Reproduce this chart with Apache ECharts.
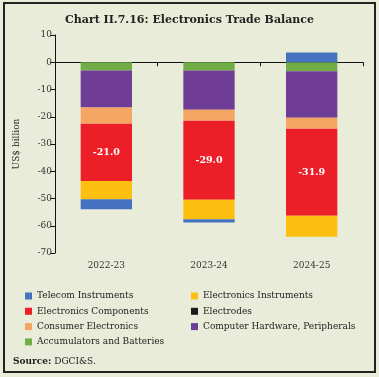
<!DOCTYPE html>
<html>
<head>
<meta charset="utf-8">
<style>
  html, body { margin: 0; padding: 0; background: #fff; }
  #chart { width: 379px; height: 377px; }
</style>
<script src="https://cdn.jsdelivr.net/npm/echarts@6/dist/echarts.min.js"></script>
</head>
<body>
<div id="chart"></div>
<script>
// data (US$ billion)
var years = ['2022-23', '2023-24', '2024-25'];
var yTicks = [10, 0, -10, -20, -30, -40, -50, -60, -70];

var accumulators = [-3.0, -3.0, -3.3];
var computerHw = [-13.6, -14.4, -17.1];
var consumerElec = [-6.0, -4.1, -4.0];
var components = [-21.0, -29.0, -31.9];
var instruments = [-6.7, -7.1, -7.7];
var electrodes = [0, 0, 0];
var telecom = [-3.6, -1.2, 3.6];

var serif = '"DejaVu Serif", "Liberation Serif", serif';

var myChart = echarts.init(document.getElementById('chart'));

function bar(name, data, color, showLabel) {
    return {
        name: name,
        type: 'bar',
        stack: 'total',
        barWidth: '50%',
        xAxisIndex: 0,
        data: data,
        itemStyle: { color: color },
        label: {
            show: !!showLabel,
            position: 'inside',
            color: '#fff',
            fontFamily: serif,
            fontSize: 9.5,
            fontWeight: 'bold',
            formatter: function (p) { return p.value.toFixed(1); }
        }
    };
}

var legendText = { fontFamily: serif, fontSize: 9, color: '#222', lineHeight: 12 };

myChart.setOption({
    backgroundColor: '#e9ecd9',
    animation: false,
    title: {
        text: 'Chart II.7.16: Electronics Trade Balance',
        left: 'center',
        top: 10,
        textStyle: { fontFamily: serif, fontSize: 11, fontWeight: 'bold', color: '#222' }
    },
    grid: { left: 55, right: 16, top: 35, bottom: 124 },
    legend: [
        {
            orient: 'vertical', left: 20, top: 285,
            itemWidth: 7, itemHeight: 7, itemGap: 3.3,
            icon: 'rect',
            textStyle: legendText,
            data: ['Telecom Instruments', 'Electronics Components', 'Consumer Electronics', 'Accumulators and Batteries']
        },
        {
            orient: 'vertical', left: 186, top: 285,
            itemWidth: 7, itemHeight: 7, itemGap: 3.3,
            icon: 'rect',
            textStyle: legendText,
            data: ['Electronics Instruments', 'Electrodes', 'Computer Hardware, Peripherals']
        }
    ],
    xAxis: [
        {
            type: 'category',
            data: years,
            axisLine: { onZero: true, lineStyle: { color: '#111', width: 1 } },
            axisTick: { show: true, length: 4, lineStyle: { color: '#111' } },
            axisLabel: { show: false }
        },
        {
            type: 'category',
            data: years,
            position: 'bottom',
            axisLine: { show: false, onZero: false },
            axisTick: { show: false },
            axisLabel: { fontFamily: serif, fontSize: 9, color: '#333', margin: 8 }
        }
    ],
    yAxis: {
        type: 'value',
        min: -70,
        max: 10,
        interval: 10,
        name: 'US$ billion',
        nameLocation: 'middle',
        nameGap: 34,
        nameTextStyle: { fontFamily: serif, fontSize: 9, color: '#333' },
        axisLine: { show: true, lineStyle: { color: '#111' } },
        axisTick: { show: true, length: 5, lineStyle: { color: '#111' } },
        axisLabel: { fontFamily: serif, fontSize: 9, color: '#333', margin: 3 },
        splitLine: { show: false }
    },
    series: [
        bar('Accumulators and Batteries', accumulators, '#70ad47'),
        bar('Computer Hardware, Peripherals', computerHw, '#6f3c96'),
        bar('Consumer Electronics', consumerElec, '#f6a663'),
        bar('Electronics Components', components, '#ec1f29', true),
        bar('Electronics Instruments', instruments, '#fdc010'),
        bar('Electrodes', electrodes, '#1b1b1b'),
        bar('Telecom Instruments', telecom, '#4572c0')
    ],
    graphic: [
        {
            type: 'rect',
            shape: { x: 4, y: 3, width: 371, height: 369 },
            style: { fill: null, stroke: '#222', lineWidth: 2 },
            silent: true
        },
        {
            type: 'text',
            left: 13,
            top: 357,
            style: {
                text: '{b|Source:} DGCI&S.',
                rich: {
                    b: { fontFamily: serif, fontSize: 9, fontWeight: 'bold', fill: '#222' }
                },
                fontFamily: serif,
                fontSize: 9,
                fill: '#222'
            }
        }
    ]
});
</script>
</body>
</html>
